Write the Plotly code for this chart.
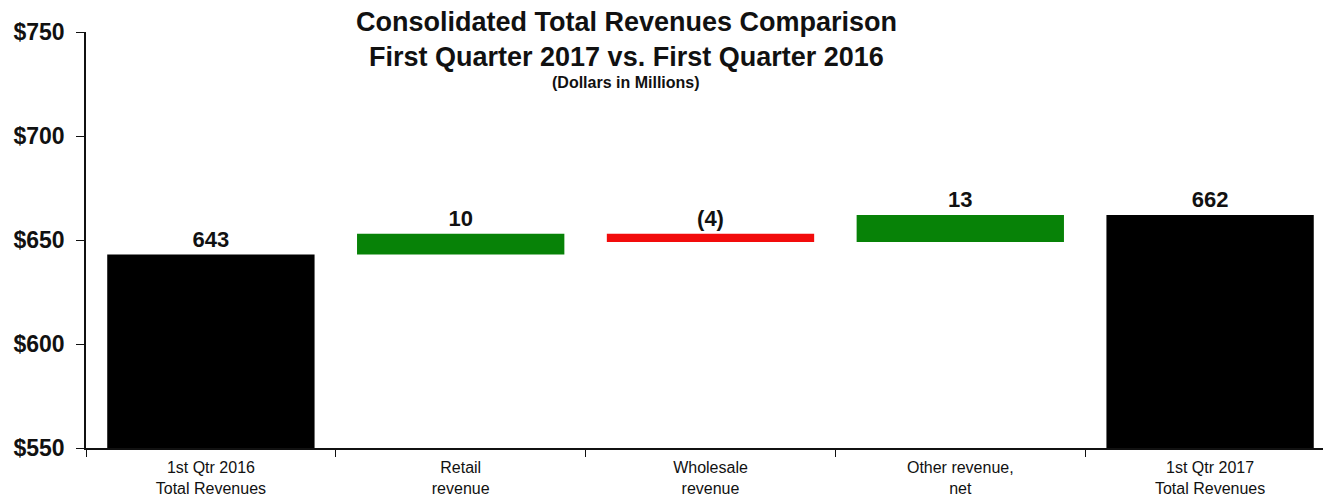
import plotly.graph_objects as go

categories = ["1st Qtr 2016<br>Total Revenues", "Retail<br>revenue", "Wholesale<br>revenue",
              "Other revenue,<br>net", "1st Qtr 2017<br>Total Revenues"]
start_total = 643
changes = [10, -4, 13]
end_total = 662
value_labels = ["643", "10", "(4)", "13", "662"]
y_ticks = [550, 600, 650, 700, 750]

# build waterfall geometry from the data
bases = [0]
heights = [start_total]
colors = ["#000000"]
running = start_total
for d in changes:
    lo = min(running, running + d)
    bases.append(lo)
    heights.append(abs(d))
    colors.append("#078207" if d >= 0 else "#f20c0c")
    running += d
bases.append(0)
heights.append(end_total)
colors.append("#000000")

FONT = "Liberation Sans, Arial, sans-serif"
W, H = 1323, 497
ML, MR, MT, MB = 86, 0, 32, 47

fig = go.Figure()
fig.add_trace(go.Bar(
    x=categories, y=heights, base=bases,
    marker=dict(color=colors, line=dict(width=0)),
    width=0.83,
    text=value_labels, textposition="outside",
    outsidetextfont=dict(family=FONT, size=22, color="#111111"),
    texttemplate="<b>%{text}</b>",
    constraintext="none", cliponaxis=False,
    hoverinfo="skip",
))

title_cx = 626  # horizontal centre of the title block in page pixels
ax = (title_cx - ML) / (W - ML - MR)
fig.update_layout(
    width=W, height=H,
    margin=dict(l=ML, r=MR, t=MT, b=MB),
    paper_bgcolor="white", plot_bgcolor="white",
    showlegend=False,
    font=dict(family=FONT, color="#111111"),
    annotations=[
        dict(text="<b>Consolidated Total Revenues Comparison</b>", x=ax, y=22, xref="paper",
             yref="paper", showarrow=False, font=dict(size=27, family=FONT, color="#111111")),
        dict(text="<b>First Quarter 2017 vs. First Quarter 2016</b>", x=ax, y=57,
             xref="paper", yref="paper", showarrow=False, font=dict(size=27, family=FONT, color="#111111")),
        dict(text="<b>(Dollars in Millions)</b>", x=ax, y=83, xref="paper", yref="paper",
             showarrow=False, font=dict(size=16, family=FONT, color="#111111")),
    ],
)
# convert annotation pixel rows to paper coords
plot_h = H - MT - MB
for a in fig.layout.annotations:
    a.y = (H - MB - a.y) / plot_h
    a.yanchor = "middle"

fig.update_xaxes(
    type="category", range=[-0.5, 4.452],
    showline=True, linecolor="#111111", linewidth=1.5,
    ticks="outside", ticklen=7, tickcolor="#111111", tickson="boundaries",
    ticklabelstandoff=4,
    tickfont=dict(size=16, family=FONT, color="#111111"),
    showgrid=False, zeroline=False,
)
fig.update_yaxes(
    range=[550, 750], tickmode="array", tickvals=y_ticks,
    ticktext=[f"<b>${v}</b>" for v in y_ticks],
    showline=True, linecolor="#111111", linewidth=1.5,
    ticks="outside", ticklen=8, tickcolor="#111111",
    ticklabelstandoff=7,
    tickfont=dict(size=23, family=FONT, color="#111111"),
    showgrid=False, zeroline=False,
)

fig.write_html("out.html")
